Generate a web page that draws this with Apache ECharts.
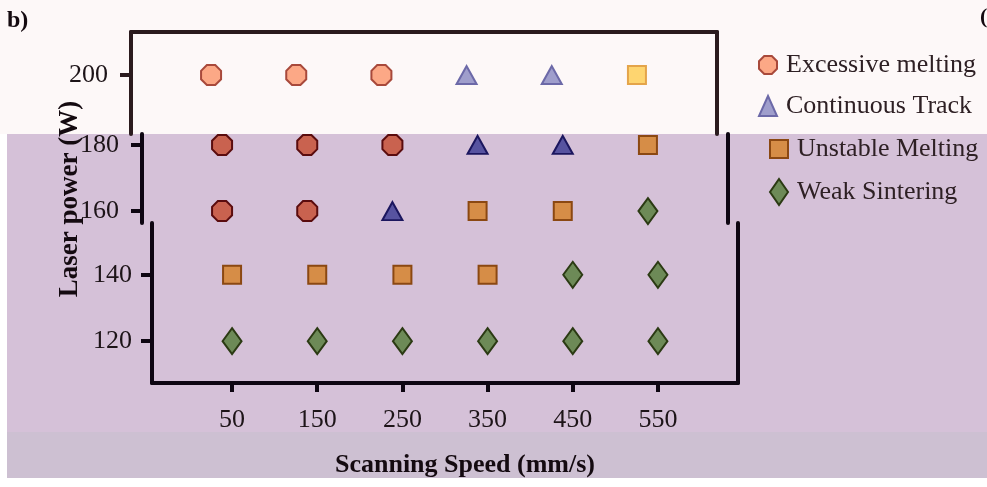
<!DOCTYPE html>
<html>
<head>
<meta charset="utf-8">
<script src="https://cdn.jsdelivr.net/npm/echarts@6/dist/echarts.min.js"></script>
<style>
html, body {margin: 0; padding: 0; background: #fff;}
#box {width: 987px; height: 487px;}
</style>
</head>
<body>
<div id="box"></div>
<script>
// ticks
var speedTicks = [50, 150, 250, 350, 450, 550];
var powerTicks = [120, 140, 160, 180, 200];

// one array per regime, [speed, power]
var seriesNames = ['Excessive melting', 'Continuous Track', 'Unstable Melting', 'Weak Sintering'];
var excessiveMelting = [[50, 200], [150, 200], [250, 200], [50, 180], [150, 180], [250, 180], [50, 160], [150, 160]];
var continuousTrack = [[350, 200], [450, 200], [350, 180], [450, 180], [250, 160]];
var unstableMelting = [[550, 200], [550, 180], [350, 160], [450, 160], [50, 140], [150, 140], [250, 140], [350, 140]];
var weakSintering = [[550, 160], [450, 140], [550, 140], [50, 120], [150, 120], [250, 120], [350, 120], [450, 120], [550, 120]];

var dataSets = [excessiveMelting, continuousTrack, unstableMelting, weakSintering];

var octagon = 'path://M29,0L71,0L100,29L100,71L71,100L29,100L0,71L0,29Z';
var square = 'path://M0,0L18,0L18,18L0,18Z';
var diamond = 'path://M9,0L18,13L9,26L0,13Z';
var markers = [
    {symbol: octagon, size: 20, light: ['#fca886', '#a8493b'], dark: ['#c9624f', '#5a0c0e']},
    {symbol: 'triangle', size: [20, 18], light: ['#9f9ecc', '#6c69a8'], dark: ['#5753a0', '#1b165e']},
    {symbol: square, size: 18, light: ['#fed570', '#e4a44a'], dark: ['#d68d47', '#8b4812']},
    {symbol: diamond, size: [19, 26], light: ['#8aa576', '#4f6a3a'], dark: ['#6d8a57', '#2b3a13']}
];

// the picture is cut in three horizontal strips, each slightly shifted
var bands = [
    {left: 131, top: 32, height: 102, min: 182.2, max: 213.0, tone: 'light', line: '#2b1b1e', edge: 'top', margin: 23},
    {left: 142, top: 134, height: 89, min: 156.4, max: 183.3, tone: 'dark', line: '#0e0612', edge: '', margin: 23},
    {left: 152, top: 223, height: 160, min: 107.4, max: 155.6, tone: 'dark', line: '#0e0612', edge: 'bottom', margin: 20}
];

var labelFont = {fontFamily: 'Liberation Serif', fontSize: 26, color: '#1d1418'};

var grid = [], xAxis = [], yAxis = [], series = [];
bands.forEach(function (b, i) {
    grid.push({left: b.left, top: b.top, width: 586, height: b.height});
    var inRange = powerTicks.filter(function (v) { return v >= b.min && v <= b.max; });
    xAxis.push({
        type: 'value', gridIndex: i, min: -44, max: 644,
        position: b.edge == 'top' ? 'top' : 'bottom',
        show: b.edge != '',
        splitLine: {show: false},
        axisLine: {show: true, onZero: false, lineStyle: {color: b.line, width: 4}},
        axisTick: {show: b.edge == 'bottom', length: 9, lineStyle: {width: 4, color: b.line}, customValues: speedTicks},
        axisLabel: Object.assign({show: b.edge == 'bottom', margin: 24, customValues: speedTicks}, labelFont)
    });
    yAxis.push({
        type: 'value', gridIndex: i, min: b.min, max: b.max, position: 'left',
        splitLine: {show: false},
        axisLine: {show: true, onZero: false, lineStyle: {color: b.line, width: 4}},
        axisTick: {show: true, length: 11, lineStyle: {width: 4, color: b.line}, customValues: inRange},
        axisLabel: Object.assign({margin: b.margin, customValues: inRange}, labelFont)
    });
    yAxis.push({
        type: 'value', gridIndex: i, min: b.min, max: b.max, position: 'right',
        splitLine: {show: false},
        axisLine: {show: true, onZero: false, lineStyle: {color: b.line, width: 4}},
        axisTick: {show: false},
        axisLabel: {show: false}
    });
    dataSets.forEach(function (arr, k) {
        var m = markers[k];
        var c = m[b.tone];
        series.push({
            name: seriesNames[k],
            type: 'scatter',
            xAxisIndex: i,
            yAxisIndex: i * 2,
            symbol: m.symbol,
            symbolSize: m.size,
            itemStyle: {color: c[0], borderColor: c[1], borderWidth: 2, opacity: 1},
            data: arr.filter(function (p) { return p[1] >= b.min && p[1] <= b.max; })
        });
    });
});

function legendItem(k, tone) {
    var m = markers[k];
    return {
        name: seriesNames[k],
        icon: m.symbol,
        itemStyle: {color: m[tone][0], borderColor: m[tone][1], borderWidth: 2}
    };
}

var legendText = {fontFamily: 'Liberation Serif', fontSize: 26, color: '#2e2024', padding: [0, 0, 0, 4]};

var myChart = echarts.init(document.getElementById('box'));
var option = {
    backgroundColor: '#d5c1d8',
    animation: false,
    grid: grid,
    xAxis: xAxis,
    yAxis: yAxis,
    legend: [
        {
            orient: 'vertical', left: 753, top: 47, itemGap: 15,
            itemWidth: 18, itemHeight: 20, selectedMode: false,
            textStyle: legendText,
            data: [legendItem(0, 'light'), legendItem(1, 'light')]
        },
        {
            orient: 'vertical', left: 764, top: 131, itemGap: 16,
            itemWidth: 18, itemHeight: 26, selectedMode: false,
            textStyle: legendText,
            data: [legendItem(2, 'dark'), legendItem(3, 'dark')]
        }
    ],
    graphic: [
        {type: 'rect', z: -10, silent: true, shape: {x: 0, y: 0, width: 987, height: 134}, style: {fill: '#fdf8f8'}},
        {type: 'rect', z: -10, silent: true, shape: {x: 0, y: 432, width: 987, height: 46}, style: {fill: '#cdc0d2'}},
        {type: 'rect', z: -9, silent: true, shape: {x: 0, y: 134, width: 7, height: 353}, style: {fill: '#ffffff'}},
        {type: 'text', left: 7, top: 9, style: {text: 'b)', font: 'bold 24px "Liberation Serif"', fill: '#140a10'}},
        {type: 'text', left: 980, top: 6, style: {text: '(', font: 'bold 22px "Liberation Serif"', fill: '#140a10'}},
        {
            type: 'text', x: 70, y: 199, rotation: Math.PI / 2,
            style: {text: 'Laser power (W)', font: 'bold 27px "Liberation Serif"', fill: '#140a10', textAlign: 'center', textVerticalAlign: 'middle'}
        },
        {
            type: 'text', x: 465, y: 465,
            style: {text: 'Scanning Speed (mm/s)', font: 'bold 26px "Liberation Serif"', fill: '#140a10', textAlign: 'center', textVerticalAlign: 'middle'}
        },
        {type: 'rect', z: 100, silent: true, shape: {x: 0, y: 478, width: 987, height: 9}, style: {fill: '#ffffff'}}
    ],
    series: series
};
myChart.setOption(option);
</script>
</body>
</html>
